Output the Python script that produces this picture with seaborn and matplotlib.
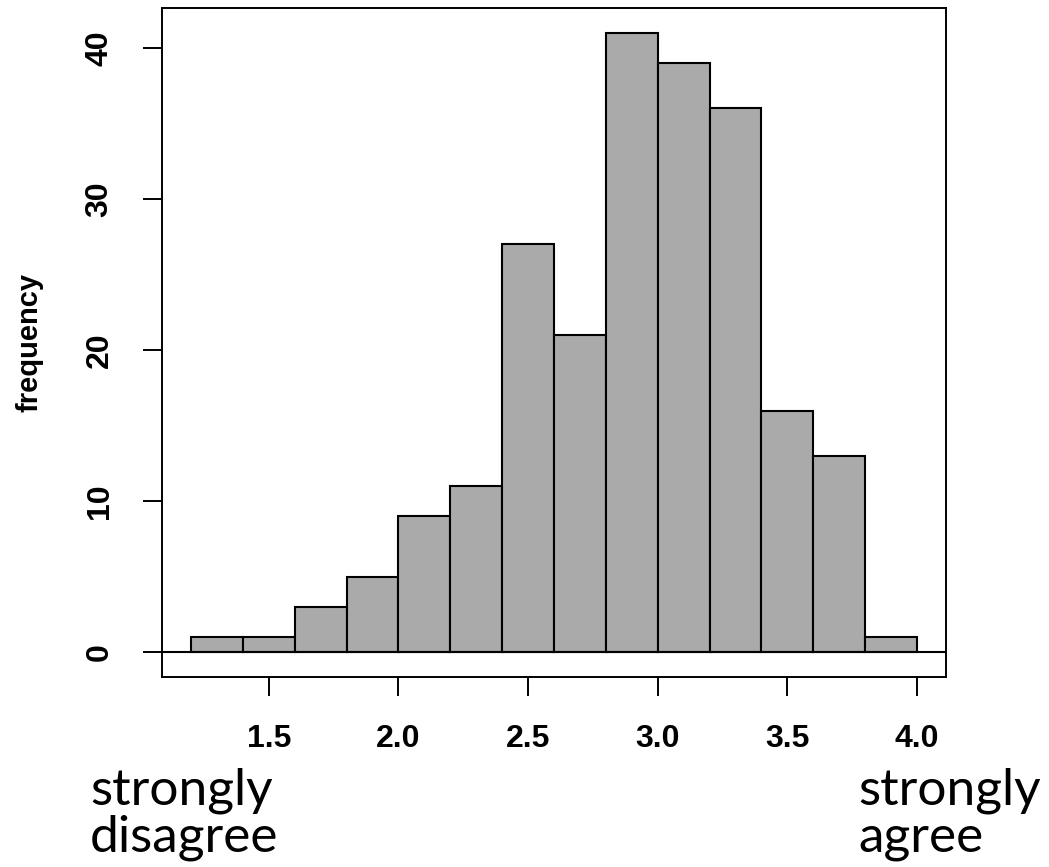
import numpy as np
import pandas as pd
import seaborn as sns
import matplotlib
matplotlib.use("Agg")
import matplotlib.pyplot as plt

# Data
bin_edges = [1.2, 1.4, 1.6, 1.8, 2.0, 2.2, 2.4, 2.6, 2.8, 3.0, 3.2, 3.4, 3.6, 3.8, 4.0]
counts = [1, 1, 3, 5, 9, 11, 27, 21, 41, 39, 36, 16, 13, 1]
x_ticks = [1.5, 2.0, 2.5, 3.0, 3.5, 4.0]
x_tick_labels = ["1.5", "2.0", "2.5", "3.0", "3.5", "4.0"]
y_ticks = [0, 10, 20, 30, 40]
y_label = "frequency"
left_note = "strongly\ndisagree"
right_note = "strongly\nagree"

centers = [(a + b) / 2 for a, b in zip(bin_edges[:-1], bin_edges[1:])]
df = pd.DataFrame({"score": centers, "n": counts})

sns.set_style("white")
plt.rcParams["font.family"] = ["Liberation Sans", "DejaVu Sans"]
plt.rcParams["text.color"] = "black"
plt.rcParams["axes.labelcolor"] = "black"
plt.rcParams["xtick.color"] = "black"
plt.rcParams["ytick.color"] = "black"

fig = plt.figure(figsize=(10.49, 8.67), dpi=100)
ax = fig.add_axes([0.1544, 0.2191, 0.9018 - 0.1544, 0.9908 - 0.2191])

sns.histplot(data=df, x="score", weights="n", bins=bin_edges, ax=ax,
             color="#AAAAAA", alpha=1.0, edgecolor="black", linewidth=1.5)

ax.axhline(0, color="black", linewidth=1.5, zorder=5)

lo, hi = bin_edges[0], bin_edges[-1]
ext = (hi - lo) * 0.04
ax.set_xlim(lo - ext, hi + ext)
ymax = max(counts)
ax.set_ylim(-ymax * 0.04, ymax * 1.04)

ax.set_xticks(x_ticks)
ax.set_xticklabels(x_tick_labels, fontsize=23, fontweight="bold", color="black")
ax.set_yticks(y_ticks)
ax.set_yticklabels([str(v) for v in y_ticks], fontsize=23, fontweight="bold",
                   rotation=90, va="center", color="black")
ax.tick_params(axis="both", direction="out", length=14, width=1.4,
               color="black", pad=20, left=True, bottom=True)
for s in ax.spines.values():
    s.set_visible(True)
    s.set_color("black")
    s.set_linewidth(1.4)

ax.set_xlabel("")
ax.set_ylabel(y_label, fontsize=21, fontweight="bold", labelpad=30, color="black")

fig.text(90 / 1049, 1 - 768 / 867, left_note, fontsize=37, family=["Lato", "DejaVu Sans"],
         ha="left", va="top", linespacing=1.0, color="black")
fig.text(858 / 1049, 1 - 768 / 867, right_note, fontsize=37, family=["Lato", "DejaVu Sans"],
         ha="left", va="top", linespacing=1.0, color="black")

fig.savefig("out.png", dpi=100)
